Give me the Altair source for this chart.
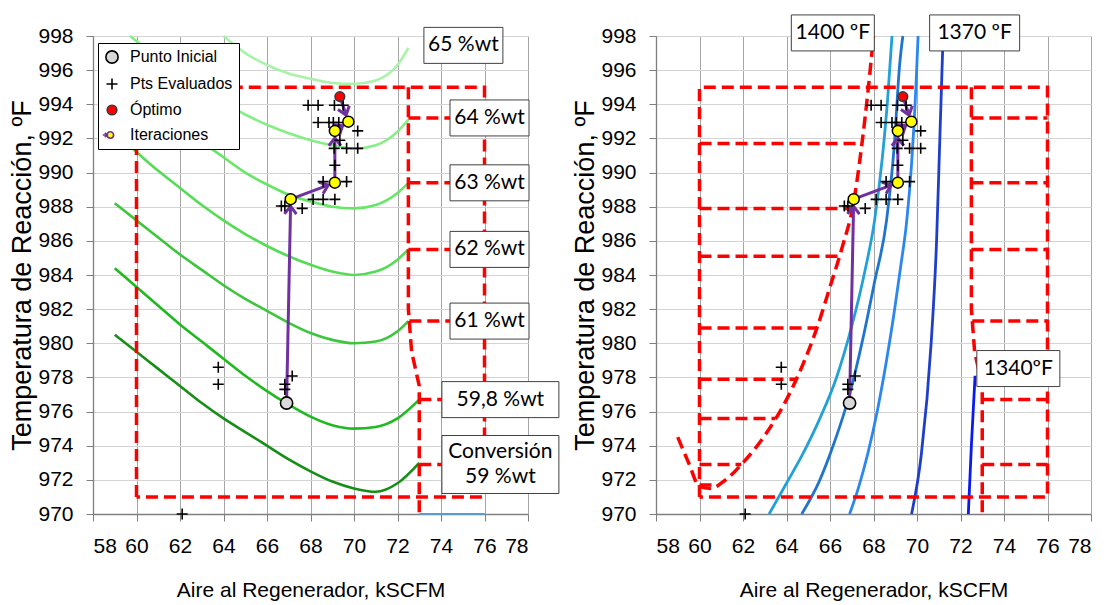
import math
import altair as alt
import numpy as np
import pandas as pd

# ---------------- axis ticks ----------------
x_ticks = list(range(58, 80, 2))
y_ticks = list(range(970, 1000, 2))

# ---------------- conversion curves (left panel) ----------------
conv_names = ["59 %wt", "59,8 %wt", "61 %wt", "62 %wt", "63 %wt", "64 %wt", "65 %wt"]
conv_colors = ["#178f17", "#1fba1f", "#3cc63c", "#55dc55", "#66e866", "#85ee85", "#a9f3a9"]
c59_x = [59, 60, 61, 62, 63, 64, 65, 66, 67, 68, 69, 70, 71, 72, 73]
c59_y = [980.5, 979.5, 978.5, 977.5, 976.5, 975.6, 974.8, 974.0, 973.2, 972.5, 971.9, 971.5, 971.3, 971.8, 973.0]
c598_x = [59, 60, 61, 62, 63, 64, 65, 66, 67, 68, 69, 70, 71, 72, 73]
c598_y = [984.4, 983.3, 982.2, 981.1, 980.1, 979.1, 978.1, 977.2, 976.4, 975.7, 975.2, 975.0, 975.1, 975.6, 976.7]
c61_x = [59, 60, 61, 62, 63, 64, 65, 66, 67, 68, 69, 70, 71, 72, 72.5]
c61_y = [988.2, 987.2, 986.2, 985.2, 984.3, 983.4, 982.6, 981.9, 981.2, 980.6, 980.2, 980.0, 980.1, 980.7, 981.3]
c62_x = [59, 60, 61, 62, 63, 64, 65, 66, 67, 68, 69, 70, 71, 72, 72.5]
c62_y = [992.3, 991.2, 990.1, 989.1, 988.1, 987.2, 986.4, 985.7, 985.1, 984.6, 984.2, 984.0, 984.2, 984.9, 985.5]
c63_x = [59, 60, 61, 62, 63, 64, 65, 66, 67, 68, 69, 70, 71, 72, 72.5]
c63_y = [996.2, 995.0, 993.9, 992.8, 991.8, 990.9, 990.0, 989.3, 988.7, 988.3, 988.0, 987.9, 988.1, 988.8, 989.4]
c64_x = [59.7, 60, 61, 62, 63, 64, 65, 66, 67, 68, 69, 70, 71, 72, 72.5]
c64_y = [998.0, 997.7, 996.7, 995.8, 994.9, 994.1, 993.4, 992.8, 992.3, 991.9, 991.6, 991.4, 991.6, 992.4, 993.1]
c65_x = [64, 65, 66, 67, 68, 69, 70, 71, 72, 72.5]
c65_y = [998.0, 997.0, 996.3, 995.8, 995.5, 995.25, 995.2, 995.4, 996.3, 997.3]
conv_series = [(c59_x, c59_y), (c598_x, c598_y), (c61_x, c61_y), (c62_x, c62_y),
               (c63_x, c63_y), (c64_x, c64_y), (c65_x, c65_y)]

conv_lab_text = ["65 %wt", "64 %wt", "63 %wt", "62 %wt", "61 %wt", "59,8 %wt", "Conversión\n59 %wt"]
conv_lab_x = [75.03, 76.23, 76.23, 76.23, 76.23, 76.73, 76.73]
conv_lab_y = [997.45, 993.2, 989.4, 985.5, 981.3, 976.7, 972.9]

# ---------------- regenerator temperature curves (right panel) ----------------
iso_names = ["T1", "T2", "T3", "1370", "1340"]
iso_colors = ["#22a0d8", "#1f74d0", "#2a86f0", "#1f3fc8", "#0a1aee"]
t1_x = [63.2, 64.0, 64.7, 65.5, 66.3, 67.0, 67.6, 68.05, 68.4, 68.65, 68.85]
t1_y = [970, 971.8, 973.4, 975.5, 978.0, 981.0, 984.2, 987.2, 990.8, 994.3, 998]
t2_x = [64.7, 65.5, 66.2, 66.9, 67.5, 68.05, 68.6, 68.95, 69.2, 69.35]
t2_y = [970, 971.9, 974.2, 977.0, 980.2, 983.6, 987.2, 991.5, 996.3, 998]
t3_x = [66.9, 67.3, 67.75, 68.2, 68.6, 68.95, 69.25, 69.53, 69.75, 69.95, 70.05]
t3_y = [970, 971.5, 973.6, 976.2, 979.0, 981.8, 984.5, 987.2, 990.5, 995.0, 998]
t1370_x = [69.75, 70.2, 70.65, 70.9, 71.05, 71.2]
t1370_y = [970, 973.5, 980.0, 986.0, 992.0, 998.0]
t1340_x = [72.36, 72.5, 72.67]
t1340_y = [970, 974.0, 978.1]
iso_series = [(t1_x, t1_y), (t2_x, t2_y), (t3_x, t3_y), (t1370_x, t1370_y), (t1340_x, t1340_y)]

t1400_x = [59.0, 59.5, 60.0, 60.5, 61.2, 62.0, 63.0, 64.0, 64.7, 65.4, 66.0, 66.6, 67.05, 67.45, 67.75, 68.0]
t1400_y = [974.5, 973.0, 971.6, 971.5, 972.0, 973.0, 974.6, 976.7, 978.6, 980.9, 983.3, 985.8, 988.0, 991.5, 994.8, 998.0]

temp_lab_text = ["1400 ºF", "1370 ºF", "1340ºF"]
temp_lab_x = [66.13, 72.65, 74.66]
temp_lab_y = [998.18, 998.18, 978.52]

# ---------------- constraint region (red dashed) ----------------
box_x = [60, 60, 76, 76, 60]
box_y = [971, 995, 995, 971, 971]
lim_x = [72.5, 72.5, 72.65, 73.0, 73.0]
lim_y = [995, 982, 979.5, 977.5, 970]
right_dash_y = [993.2, 989.4, 985.5, 981.3, 976.7, 972.9]
left_dash_y = [991.7, 987.9, 985.1, 980.9, 977.9, 975.6, 972.9, 971.7]
base_x = [73, 76]
base_y = [970, 970]

# ---------------- optimisation points ----------------
init_x, init_y = [66.9], [976.5]
opt_x, opt_y = [69.35], [994.45]
iter_x = [67.09, 69.12, 69.12, 69.74]
iter_y = [988.44, 989.41, 992.44, 992.98]
pts_x = [67.89, 68.35, 69.1, 69.5, 68.35, 68.85, 69.05, 69.3, 70.17, 69.35, 69.09, 69.66,
         70.17, 69.12, 68.58, 69.66, 68.12, 68.58, 69.12, 66.66, 66.82, 67.62, 66.82, 66.82,
         67.16, 63.76, 63.76, 62.1]
pts_y = [993.94, 993.94, 993.94, 993.94, 992.93, 992.93, 992.93, 992.93, 992.44, 991.89, 991.42, 991.42,
         991.42, 990.43, 989.47, 989.47, 988.43, 988.43, 988.43, 988.04, 988.04, 987.9, 977.6, 977.3,
         978.08, 978.6, 977.6, 970.0]

# ======================================================================
W, H = 435, 478
PX_X = W / (78 - 58)
PX_Y = H / (998 - 970)
PURPLE = "#7030a0"
RED = "#ff0000"

xs = alt.Scale(domain=[58, 78], nice=False, zero=False)
ys = alt.Scale(domain=[970, 998], nice=False, zero=False)
ax_x = alt.Axis(values=x_ticks, format="d", title="Aire al Regenerador, kSCFM", grid=True,
                gridColor="#a6a6a6", domainColor="#7f7f7f", domainWidth=1.3, tickColor="#7f7f7f",
                tickSize=7, labelFont="Liberation Sans", labelFontSize=21, labelColor="#000",
                labelPadding=14, titleFont="Liberation Sans", titleFontSize=21, titleFontWeight="normal",
                titleColor="#000", titlePadding=23)
ax_y = alt.Axis(values=y_ticks, format="d", title="Temperatura de Reacción, ºF", grid=True,
                gridColor="#d4d4d4", domainColor="#7f7f7f", domainWidth=1.3, tickColor="#7f7f7f",
                tickSize=7, labelFont="Liberation Sans", labelFontSize=21, labelColor="#000",
                labelPadding=13, titleFont="Liberation Sans", titleFontSize=27, titleFontWeight="normal",
                titleColor="#000", titlePadding=1)
X = alt.X("x:Q", scale=xs, axis=ax_x)
Y = alt.Y("y:Q", scale=ys, axis=ax_y)


def series_df(series, names):
    rows = []
    for (xx, yy), n in zip(series, names):
        for i, (a, b) in enumerate(zip(xx, yy)):
            rows.append({"x": a, "y": b, "s": n, "o": i})
    return pd.DataFrame(rows)


def polylines(lines):
    rows = []
    for k, (xx, yy) in enumerate(lines):
        for i, (a, b) in enumerate(zip(xx, yy)):
            rows.append({"x": a, "y": b, "s": k, "o": i})
    return pd.DataFrame(rows)


# red dashed construction
lim_x_at = lambda yv: float(np.interp(yv, lim_y[::-1], lim_x[::-1]))
rise = [i for i in range(len(t1400_y)) if i >= 3]
curve_x_at = lambda yv: float(np.interp(yv, [t1400_y[i] for i in rise], [t1400_x[i] for i in rise]))

common_red = [(box_x, box_y), (lim_x, lim_y)] + [([lim_x_at(v), 76], [v, v]) for v in right_dash_y]
left_red = common_red
right_red = common_red + [([60, curve_x_at(v)], [v, v]) for v in left_dash_y]


def red_layer(lines):
    return alt.Chart(polylines(lines)).mark_line(color=RED, strokeWidth=3.5, strokeDash=[12, 6]).encode(
        x=X, y=Y, detail="s:N", order="o:Q")


# arrows
frm = [(init_x[0], init_y[0])] + list(zip(iter_x[:3], iter_y[:3])) + [(opt_x[0], opt_y[0])]
to = list(zip(iter_x, iter_y)) + [(iter_x[3], iter_y[3])]
seg_rows, head_rows = [], []
for (fx, fy), (tx, ty) in zip(frm, to):
    dxp, dyp = (tx - fx) * PX_X, -(ty - fy) * PX_Y
    L = math.hypot(dxp, dyp)
    ux, uy = dxp / L, dyp / L
    back = 7.0
    ax_, ay_ = tx - ux * back / PX_X, ty + uy * back / PX_Y
    ang = math.degrees(math.atan2(ux, -uy)) % 360
    seg_rows.append({"x": fx, "y": fy, "x2": ax_, "y2": ay_})
    head_rows.append({"x": ax_, "y": ay_, "a": ang})
seg_df = pd.DataFrame(seg_rows)
head_df = pd.DataFrame(head_rows)

cats = ["Punto Inicial", "Pts Evaluados", "Óptimo", "Iteraciones"]
cross_path = "M-1,0L1,0M0,-1L0,1"
iter_path = ("M-2.3,0L-1.2,0M-1.8,-0.55L-1.2,0L-1.8,0.55"
             "M0.4,0A0.8,0.8 0 1,1 -1.2,0A0.8,0.8 0 1,1 0.4,0Z")
pts_df = pd.DataFrame(
    [{"x": a, "y": b, "tipo": "Pts Evaluados"} for a, b in zip(pts_x, pts_y)]
    + [{"x": init_x[0], "y": init_y[0], "tipo": "Punto Inicial"},
       {"x": opt_x[0], "y": opt_y[0], "tipo": "Óptimo"}])
iter_df = pd.DataFrame({"x": iter_x, "y": iter_y})


def point_layers(show_legend):
    leg = alt.Legend(orient="none", legendX=5, legendY=7, title=None, padding=6,
                     strokeColor="#000", fillColor="#fff", labelFont="Liberation Sans",
                     labelFontSize=16, labelColor="#000", rowPadding=8, symbolStrokeWidth=1.6,
                     labelOffset=10) if show_legend else None
    rules = alt.Chart(seg_df).mark_rule(color=PURPLE, strokeWidth=3).encode(
        x=X, y=Y, x2="x2:Q", y2="y2:Q")
    heads = alt.Chart(head_df).mark_point(shape="M-1,1.3L0,0L1,1.3", filled=False, stroke=PURPLE,
                                          strokeWidth=3, size=144, opacity=1).encode(
        x=X, y=Y, angle=alt.Angle("a:Q", scale=None))
    pts = alt.Chart(pts_df).mark_point(filled=True, strokeWidth=1.6, opacity=1).encode(
        x=X, y=Y,
        fill=alt.Fill("tipo:N", scale=alt.Scale(domain=cats, range=["#d9d9d9", "#000000", "#ff0000", "#ffff00"]), legend=leg),
        stroke=alt.Stroke("tipo:N", scale=alt.Scale(domain=cats, range=["#000000", "#000000", "#3a3a3a", PURPLE]), legend=leg),
        shape=alt.Shape("tipo:N", scale=alt.Scale(domain=cats, range=["circle", cross_path, "circle", iter_path]), legend=leg),
        size=alt.Size("tipo:N", scale=alt.Scale(domain=cats, range=[150, 64, 110, 196]), legend=leg),
    )
    yel = alt.Chart(iter_df).mark_point(filled=True, shape="circle", fill="#ffff00", stroke="#000",
                                        strokeWidth=1.5, size=121, opacity=1).encode(x=X, y=Y)
    return [rules, heads, pts, yel]


def boxed(texts, xx, yy, w, h, dy=0):
    df = pd.DataFrame({"x": xx, "y": yy, "t": texts})
    rect = alt.Chart(df).mark_rect(fill="#fff", stroke="#404040", strokeWidth=1,
                                   xOffset=-w / 2, x2Offset=w / 2, yOffset=-h / 2, y2Offset=h / 2).encode(
        x=X, x2="x:Q", y=Y, y2="y:Q")
    txt = alt.Chart(df).mark_text(font="Lato", fontSize=21, color="#000", lineBreak="\n",
                                  lineHeight=25, dy=dy).encode(x=X, y=Y, text="t:N")
    return [rect, txt]


# ---------------- left panel ----------------
conv_df = series_df(conv_series, conv_names)
green = alt.Chart(conv_df).mark_line(strokeWidth=2.6, interpolate="monotone").encode(
    x=X, y=Y, color=alt.Color("s:N", scale=alt.Scale(domain=conv_names, range=conv_colors), legend=None),
    detail="s:N", order="o:Q")
base_line = alt.Chart(pd.DataFrame({"x": base_x, "y": base_y})).mark_line(
    color="#5b9bd5", strokeWidth=2).encode(x=X, y=Y)

left_layers = [green, base_line, red_layer(left_red)]
left_layers += boxed(conv_lab_text[:5], conv_lab_x[:5], conv_lab_y[:5], 79, 36)
left_layers += boxed(conv_lab_text[5:6], conv_lab_x[5:6], conv_lab_y[5:6], 117, 36)
left_layers += boxed(conv_lab_text[6:], conv_lab_x[6:], conv_lab_y[6:], 117, 58, dy=-12)
left_layers += point_layers(True)
left = alt.layer(*left_layers).properties(width=W, height=H)

# ---------------- right panel ----------------
iso_df = series_df(iso_series, iso_names)
blue = alt.Chart(iso_df).mark_line(strokeWidth=2.8, interpolate="monotone").encode(
    x=X, y=Y, color=alt.Color("s:N", scale=alt.Scale(domain=iso_names, range=iso_colors), legend=None),
    detail="s:N", order="o:Q")
curve1400 = alt.Chart(pd.DataFrame({"x": t1400_x, "y": t1400_y, "o": range(len(t1400_x))})).mark_line(
    color=RED, strokeWidth=3.5, strokeDash=[12, 6], interpolate="monotone").encode(x=X, y=Y, order="o:Q")

right_layers = [blue, red_layer(right_red), curve1400]
right_layers += boxed(temp_lab_text[:1], temp_lab_x[:1], temp_lab_y[:1], 83, 36)
right_layers += boxed(temp_lab_text[1:2], temp_lab_x[1:2], temp_lab_y[1:2], 90, 36)
right_layers += boxed(temp_lab_text[2:], temp_lab_x[2:], temp_lab_y[2:], 83, 36)
right_layers += point_layers(False)
right = alt.layer(*right_layers).properties(width=W, height=H)

chart = alt.hconcat(left, right, spacing=128, bounds="flush").resolve_scale(
    color="independent", fill="independent", stroke="independent", shape="independent", size="independent"
).configure_view(stroke=None).properties(
    padding={"left": 8, "top": 14, "right": 5, "bottom": 2})

chart.save("out.html", embed_options={"renderer": "svg", "actions": False})
